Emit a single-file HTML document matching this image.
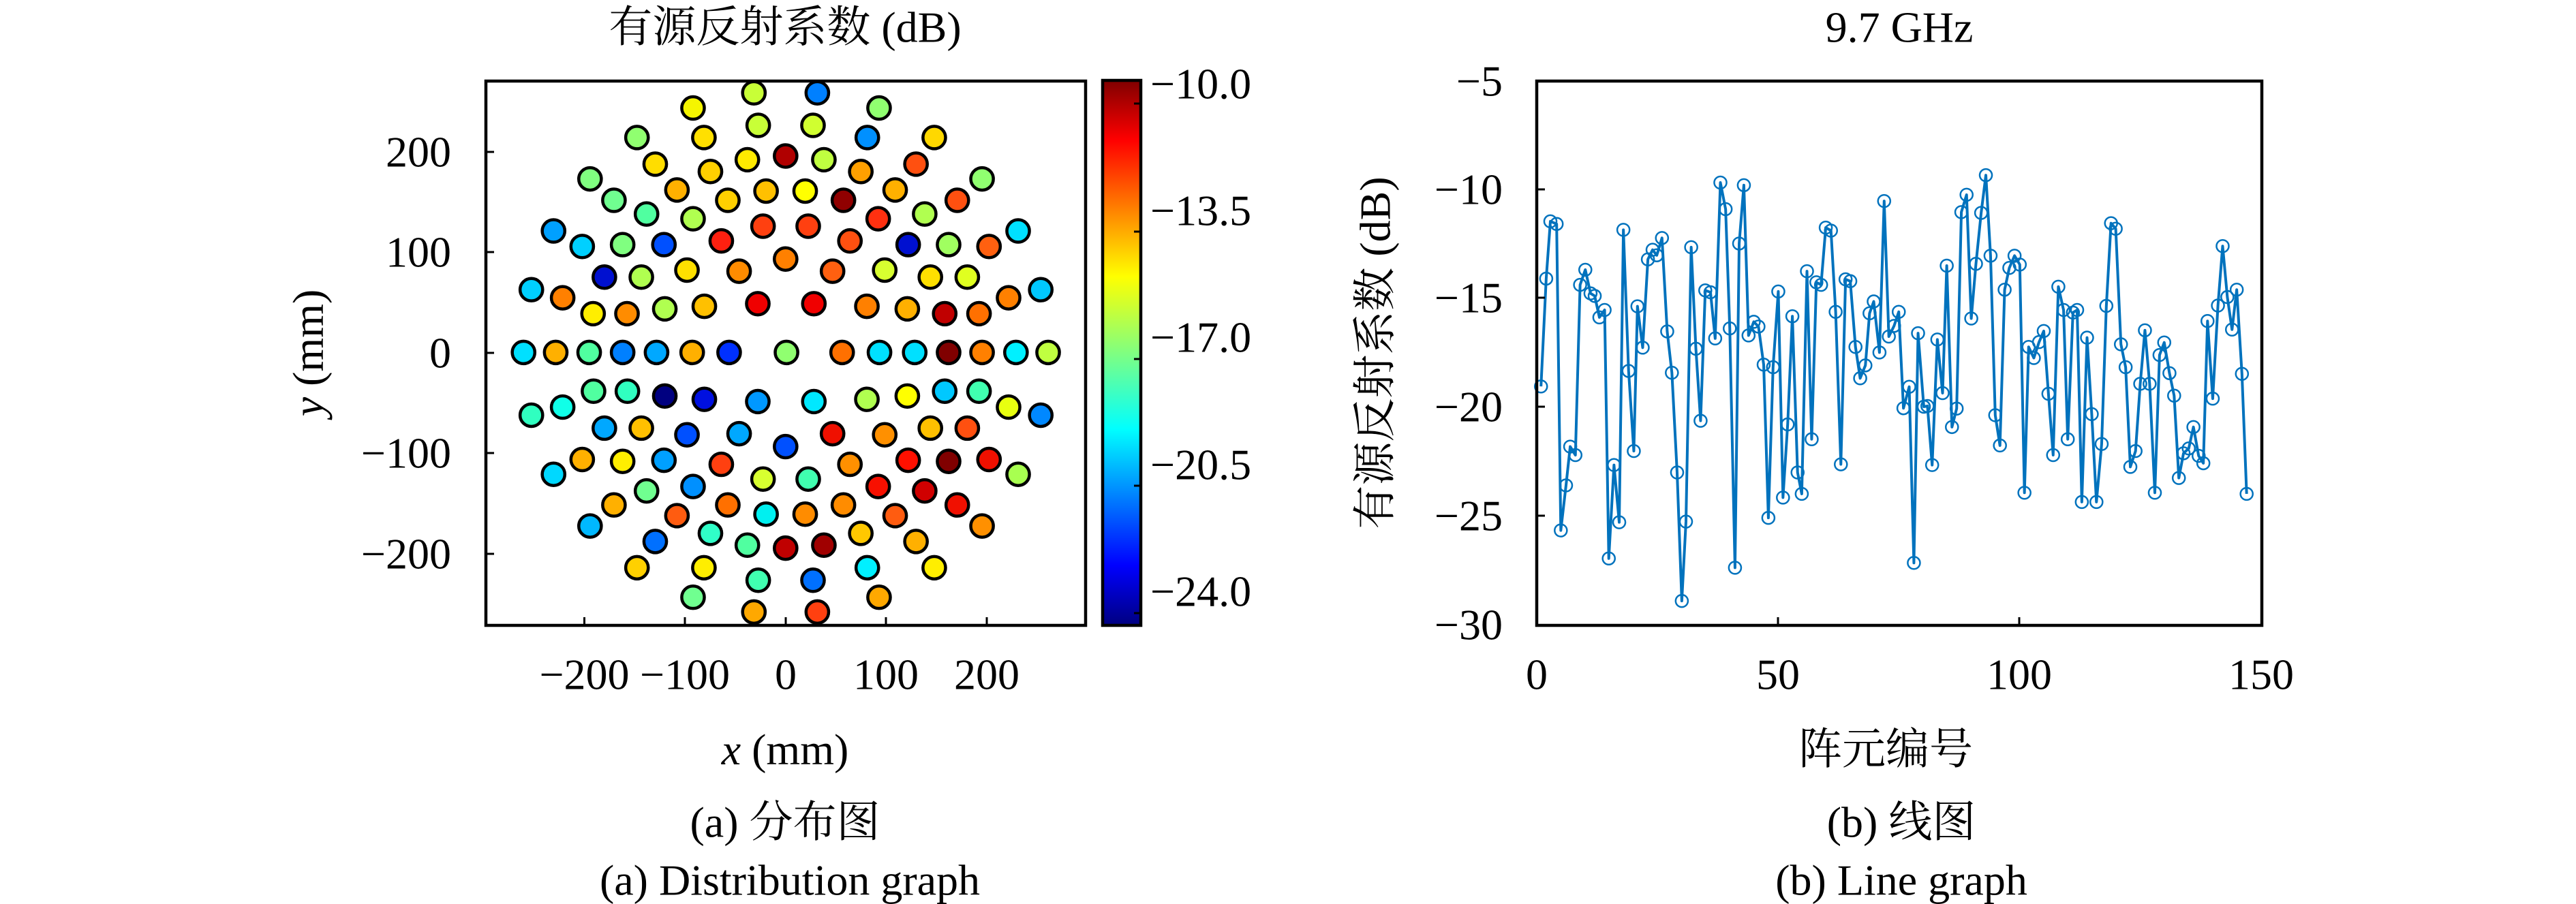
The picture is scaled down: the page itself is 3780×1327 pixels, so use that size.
<!DOCTYPE html>
<html><head><meta charset="utf-8"><style>
html,body{margin:0;padding:0;background:#fff;}
svg{display:block;}
text{font-family:"Liberation Serif","Noto Serif CJK SC",serif;fill:#000;}
</style></head><body>
<svg width="3780" height="1327" viewBox="0 0 3780 1327" xmlns="http://www.w3.org/2000/svg">
<defs>
<linearGradient id="jet" x1="0" y1="1" x2="0" y2="0">
<stop offset="0" stop-color="#000080"/>
<stop offset="0.11" stop-color="#0000ff"/>
<stop offset="0.36" stop-color="#00ffff"/>
<stop offset="0.5" stop-color="#80ff80"/>
<stop offset="0.64" stop-color="#ffff00"/>
<stop offset="0.89" stop-color="#ff0000"/>
<stop offset="1" stop-color="#800000"/>
</linearGradient>
</defs>

<!-- LEFT PLOT -->
<text x="1152" y="40" font-size="64" text-anchor="middle" dominant-baseline="central">有源反射系数 (dB)</text>
<g transform="translate(700,100) scale(0.63776,0.54201)" stroke="#000" stroke-width="4.5">
<g style="vector-effect:non-scaling-stroke">
</g>
</g>
<g id="dots" transform="translate(700,100) scale(0.63776,0.54201)">
<g stroke="#000">
<ellipse cx="637" cy="67" rx="26" ry="30.4" fill="#c8ff37" vector-effect="non-scaling-stroke" stroke-width="4.5"/>
</g>
</g>
<g transform="translate(700,100) scale(0.63776,0.54201)" stroke="#000" stroke-width="4.5">
<g id="dd"></g>
</g>
<rect x="713" y="119" width="880" height="799" fill="none" stroke="#000" stroke-width="4.5"/>
<g stroke="#000" stroke-width="3">
<line x1="857.5" y1="918" x2="857.5" y2="906"/><line x1="1005" y1="918" x2="1005" y2="906"/><line x1="1153" y1="918" x2="1153" y2="906"/><line x1="1300" y1="918" x2="1300" y2="906"/><line x1="1448" y1="918" x2="1448" y2="906"/>
<line x1="713" y1="223" x2="725" y2="223"/><line x1="713" y1="370" x2="725" y2="370"/><line x1="713" y1="518" x2="725" y2="518"/><line x1="713" y1="665" x2="725" y2="665"/><line x1="713" y1="813" x2="725" y2="813"/>
</g>
<g font-size="64" text-anchor="end" dominant-baseline="central">
<text x="662" y="223">200</text><text x="662" y="370">100</text><text x="662" y="518">0</text><text x="662" y="665">−100</text><text x="662" y="813">−200</text>
</g>
<g font-size="64" text-anchor="middle" dominant-baseline="central">
<text x="857.5" y="990">−200</text><text x="1005" y="990">−100</text><text x="1153" y="990">0</text><text x="1300" y="990">100</text><text x="1448" y="990">200</text>
<text x="1152" y="1100"><tspan font-style="italic">x</tspan> (mm)</text>
<text transform="translate(452,518) rotate(-90)"><tspan font-style="italic">y</tspan> (mm)</text>
<text x="1152" y="1207">(a) 分布图</text>
<text x="1159" y="1292">(a) Distribution graph</text>
</g>
<!-- colorbar -->
<rect x="1618" y="118" width="56" height="800" fill="url(#jet)" stroke="#000" stroke-width="4.5"/>
<g stroke="#000" stroke-width="3">
<line x1="1674" y1="152" x2="1664" y2="152"/><line x1="1674" y1="340" x2="1664" y2="340"/><line x1="1674" y1="527" x2="1664" y2="527"/><line x1="1674" y1="713" x2="1664" y2="713"/><line x1="1674" y1="900" x2="1664" y2="900"/>
</g>
<g font-size="64" dominant-baseline="central">
<text x="1688" y="123">−10.0</text><text x="1688" y="309">−13.5</text><text x="1688" y="495">−17.0</text><text x="1688" y="682">−20.5</text><text x="1688" y="868">−24.0</text>
</g>

<!-- RIGHT PLOT -->
<text x="2787" y="40" font-size="64" text-anchor="middle" dominant-baseline="central">9.7 GHz</text>
<g id="line" transform="translate(2200,100) scale(0.76531,0.54201)"></g>
<rect x="2255" y="119" width="1064" height="799" fill="none" stroke="#000" stroke-width="4.5"/>
<g stroke="#000" stroke-width="3">
<line x1="2609" y1="918" x2="2609" y2="906"/><line x1="2963" y1="918" x2="2963" y2="906"/>
<line x1="2255" y1="278" x2="2267" y2="278"/><line x1="2255" y1="437" x2="2267" y2="437"/><line x1="2255" y1="597" x2="2267" y2="597"/><line x1="2255" y1="757" x2="2267" y2="757"/>
</g>
<g font-size="64" text-anchor="end" dominant-baseline="central">
<text x="2205" y="119">−5</text><text x="2205" y="278">−10</text><text x="2205" y="437">−15</text><text x="2205" y="597">−20</text><text x="2205" y="757">−25</text><text x="2205" y="917">−30</text>
</g>
<g font-size="64" text-anchor="middle" dominant-baseline="central">
<text x="2255" y="990">0</text><text x="2609" y="990">50</text><text x="2963" y="990">100</text><text x="3318" y="990">150</text>
<text x="2767" y="1100">阵元编号</text>
<text transform="translate(2018,518) rotate(-90)">有源反射系数 (dB)</text>
<text x="2790" y="1207">(b) 线图</text>
<text x="2790" y="1292">(b) Line graph</text>
</g>
</svg>
<script>
(function(){
var NS="http://www.w3.org/2000/svg";
var dots=[
[637,67,"#c8ff37"],[783,67,"#0080ff"],[497,108,"#f5f500"],[925,108,"#90ff70"],[647,155,"#c8ff37"],[773,155,"#d0ff30"],
[368,188,"#90ff70"],[522,188,"#ffe000"],[898,188,"#0090ff"],[1052,188,"#ffd800"],
[622,248,"#ffea00"],[710,238,"#b00000"],[798,248,"#c0ff40"],[410,260,"#ffdd00"],[1010,260,"#ff5010"],
[537,280,"#ffd000"],[883,280,"#ffa000"],[260,300,"#80ff80"],[1162,300,"#90ff70"],
[460,330,"#ffb000"],[665,333,"#ffc000"],[755,333,"#ffff00"],[962,330,"#ffb000"],
[315,358,"#70ff90"],[577,358,"#ffd000"],[843,358,"#900000"],[1105,358,"#ff5010"],
[390,395,"#50ffa0"],[1030,395,"#b0ff50"],[497,408,"#b0ff50"],[923,408,"#ff3010"],
[658,428,"#ff4010"],[762,428,"#ff4010"],[176,441,"#00a0ff"],[1245,441,"#00e0ff"],
[562,468,"#ff2010"],[858,468,"#ff5010"],[335,478,"#80ff80"],[430,478,"#0050ff"],[992,478,"#0010d0"],[1085,478,"#a0ff60"],
[242,483,"#00d0ff"],[1178,483,"#ff6010"],[710,517,"#ff8000"],
[483,547,"#ffe000"],[603,550,"#ff8c00"],[818,550,"#ff6010"],[938,547,"#d8ff30"],
[293,566,"#0010d0"],[378,566,"#b0ff50"],[1043,566,"#ffe000"],[1128,566,"#e0ff20"],
[125,600,"#00d0ff"],[1297,600,"#00c8ff"],[197,622,"#ff8000"],[1223,622,"#ff8000"],
[646,638,"#f00000"],[775,638,"#f00000"],[897,645,"#ff8000"],
[432,652,"#b0ff50"],[523,645,"#ffc000"],[990,652,"#ffb000"],
[267,665,"#ffee00"],[345,665,"#ff8c00"],[1076,665,"#c00000"],[1155,665,"#ff7000"],
[107,770,"#00e0ff"],[181,770,"#ffb000"],[258,770,"#50ffa0"],[335,770,"#0080ff"],[413,770,"#00a8ff"],[495,770,"#ffb000"],[580,770,"#0030ff"],[712,770,"#90ff70"],[840,770,"#ff7000"],[926,770,"#00e0ff"],[1007,770,"#00e0ff"],[1085,770,"#800000"],[1162,770,"#ff8000"],[1240,770,"#00f0ff"],[1314,770,"#c0ff40"],
[268,875,"#50ffa0"],[346,875,"#30ffc0"],[1076,875,"#00c8ff"],[1155,875,"#40ffb0"],
[432,888,"#000080"],[990,888,"#ffff00"],[523,897,"#0010e0"],[897,897,"#b0ff50"],
[646,903,"#0098ff"],[775,903,"#00e8ff"],[197,918,"#10ffe8"],[1223,918,"#e8ff10"],
[125,940,"#30ffc0"],[1297,940,"#0088ff"],
[293,975,"#00a8ff"],[378,975,"#ffc000"],[1043,975,"#ffc000"],[1128,975,"#ff5010"],
[483,993,"#0050ff"],[603,990,"#00a8ff"],[818,990,"#f01000"],[938,993,"#ff9000"],
[710,1025,"#0050ff"],[242,1060,"#ffb000"],[1178,1060,"#f01000"],
[335,1065,"#ffee00"],[430,1062,"#00a0ff"],[992,1062,"#ff1000"],[1085,1065,"#800000"],
[562,1073,"#ff4010"],[858,1073,"#ff9000"],[176,1100,"#00d8ff"],[1245,1100,"#a8ff50"],
[658,1113,"#d8ff30"],[762,1113,"#40ffb0"],[497,1133,"#0090ff"],[923,1133,"#f81000"],
[390,1145,"#70ff90"],[1030,1145,"#d00000"],
[315,1183,"#ffb000"],[577,1183,"#ff7000"],[843,1183,"#ff8c00"],[1105,1183,"#f01000"],
[460,1212,"#ff5c10"],[665,1208,"#00f0f0"],[755,1208,"#ff8c00"],[962,1212,"#ff5c10"],
[260,1240,"#00b8ff"],[1162,1240,"#ff9000"],[537,1260,"#30ffc8"],[883,1260,"#ffc800"],
[410,1282,"#0070ff"],[1010,1282,"#ffb000"],[622,1292,"#50ffa0"],[710,1300,"#c00000"],[798,1292,"#a00000"],
[368,1353,"#ffd000"],[522,1353,"#ffee00"],[898,1353,"#00f0ff"],[1052,1353,"#ffee00"],
[647,1387,"#40ffb0"],[773,1387,"#0070ff"],[497,1433,"#70ff90"],[925,1433,"#ffa800"],
[637,1473,"#ffa800"],[783,1473,"#ff4010"]];
var g=document.getElementById("dd");
dots.forEach(function(d){var e=document.createElementNS(NS,"ellipse");
e.setAttribute("cx",d[0]);e.setAttribute("cy",d[1]);e.setAttribute("rx",26);e.setAttribute("ry",30.4);
e.setAttribute("fill",d[2]);e.setAttribute("stroke","#000");e.setAttribute("stroke-width","4.5");
e.setAttribute("vector-effect","non-scaling-stroke");g.appendChild(e);});
document.getElementById("dots").remove();
var pts=[[80,862],[90,570],[98,415],[110,422],[118,1252],[128,1130],[136,1025],[146,1048],[155,587],[165,546],[175,610],[183,617],[192,675],[202,655],[210,1328],[220,1075],[230,1230],[238,438],[248,820],[258,1037],[265,645],[275,757],[285,518],[294,492],[302,507],[312,460],[322,713],[331,825],[341,1095],[350,1443],[358,1228],[368,485],[377,760],[386,955],[395,602],[405,607],[414,732],[424,310],[434,382],[442,705],[452,1353],[460,475],[469,317],[478,724],[488,687],[497,700],[507,803],[516,1218],[525,810],[535,605],[544,1163],[553,965],[562,672],[572,1095],[580,1153],[590,550],[599,1005],[608,580],[617,587],[626,432],[636,440],[645,660],[655,1073],[664,572],[673,577],[683,755],[692,840],[702,805],[710,664],[718,632],[729,770],[738,360],[747,727],[757,698],[766,660],[775,921],[786,863],[795,1340],[803,718],[814,917],[821,915],[830,1075],[840,735],[850,880],[858,535],[868,972],[877,922],[886,390],[896,343],[905,678],[914,530],[924,392],[933,290],[942,508],[951,940],[960,1022],[969,600],[978,541],[988,508],[998,532],[1007,1150],[1015,755],[1025,785],[1035,742],[1044,712],[1053,882],[1062,1048],[1072,592],[1082,655],[1090,1005],[1100,662],[1108,655],[1117,1175],[1127,730],[1136,937],[1145,1175],[1155,1018],[1164,644],[1173,420],[1182,435],[1192,748],[1201,810],[1210,1080],[1220,1037],[1229,855],[1238,710],[1247,855],[1257,1150],[1266,777],[1275,743],[1285,826],[1294,887],[1303,1110],[1312,1043],[1322,1030],[1331,972],[1341,1050],[1350,1070],[1358,685],[1368,895],[1378,643],[1387,482],[1396,620],[1405,708],[1414,600],[1424,828],[1433,1153]];
var lg=document.getElementById("line");
var pl=document.createElementNS(NS,"polyline");
pl.setAttribute("points",pts.map(function(p){return p[0]+","+p[1];}).join(" "));
pl.setAttribute("fill","none");pl.setAttribute("stroke","#0072bd");pl.setAttribute("stroke-width","4");
pl.setAttribute("stroke-linejoin","round");pl.setAttribute("vector-effect","non-scaling-stroke");lg.appendChild(pl);
pts.forEach(function(p){var e=document.createElementNS(NS,"ellipse");
e.setAttribute("cx",p[0]);e.setAttribute("cy",p[1]);e.setAttribute("rx",11.8);e.setAttribute("ry",16.6);
e.setAttribute("fill","none");e.setAttribute("stroke","#0072bd");e.setAttribute("stroke-width","2.5");
e.setAttribute("vector-effect","non-scaling-stroke");lg.appendChild(e);});
})();
</script>
</body></html>
